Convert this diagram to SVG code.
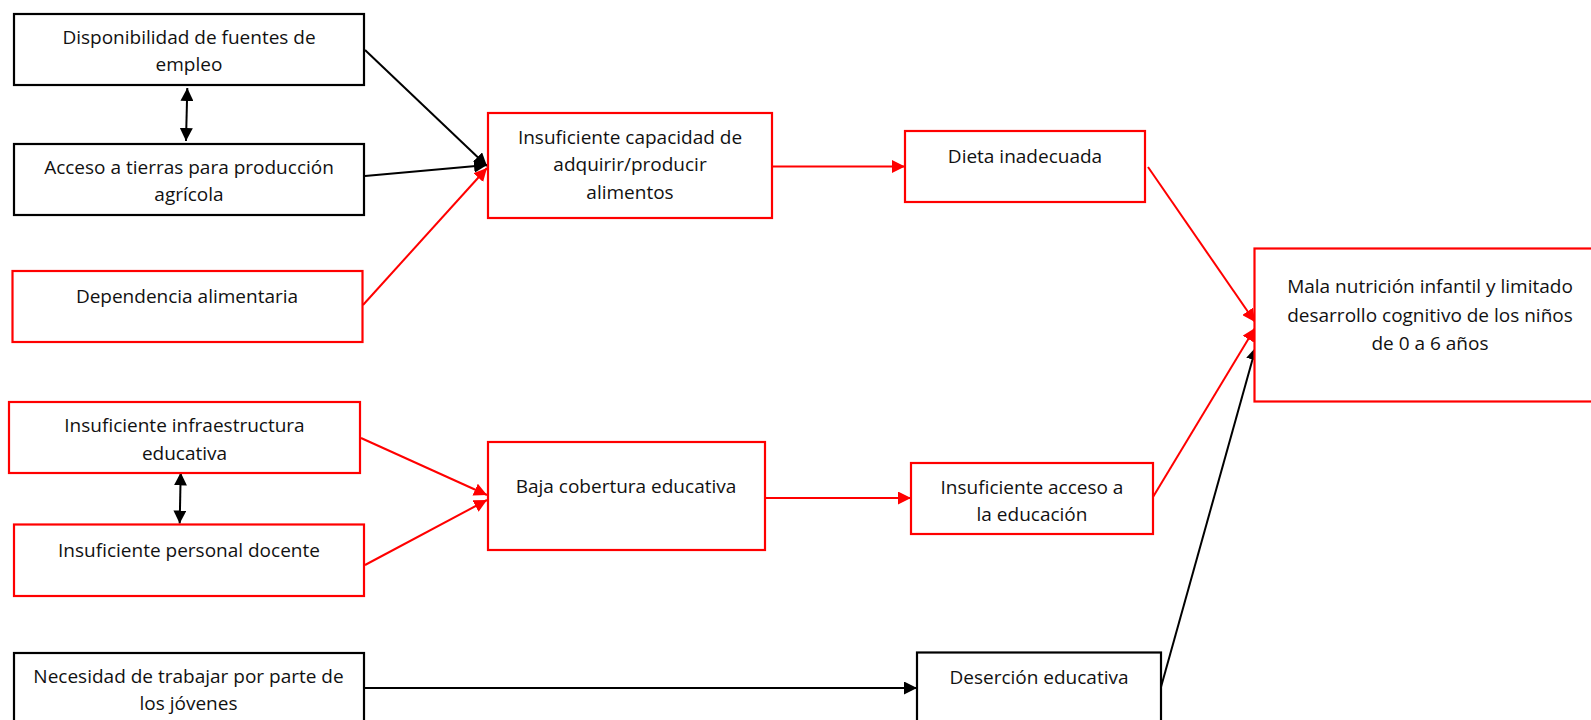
<svg xmlns="http://www.w3.org/2000/svg" width="1591" height="720" viewBox="0 0 1591 720">
<style>
  .bk { fill: #ffffff; stroke: #000000; stroke-width: 2.2; }
  .rd { fill: #ffffff; stroke: #ff0000; stroke-width: 2.2; }
  text { font-family: "Open Sans", "Liberation Sans", sans-serif; font-size: 19px; fill: #111111; text-anchor: middle; }
  .cb { stroke: #000000; stroke-width: 2; fill: none; }
  .cr { stroke: #ff0000; stroke-width: 2; fill: none; }
</style>
<defs>
  <marker id="ab" markerUnits="userSpaceOnUse" markerWidth="14" markerHeight="13" refX="13" refY="6.5" orient="auto-start-reverse" viewBox="0 0 14 13">
    <path d="M0,0 L13,6.5 L0,13 z" fill="#000000"/>
  </marker>
  <marker id="ar" markerUnits="userSpaceOnUse" markerWidth="14" markerHeight="13" refX="13" refY="6.5" orient="auto" viewBox="0 0 14 13">
    <path d="M0,0 L13,6.5 L0,13 z" fill="#ff0000"/>
  </marker>
</defs>
<rect width="1591" height="720" fill="#ffffff"/>

<g id="connectors">
  <line class="cb" x1="365" y1="50" x2="487" y2="166" marker-end="url(#ab)"/>
  <line class="cb" x1="365" y1="176" x2="487" y2="165" marker-end="url(#ab)"/>
  <line class="cr" x1="363" y1="305" x2="487" y2="168" marker-end="url(#ar)"/>
  <line class="cr" x1="773" y1="166.5" x2="905" y2="166.5" marker-end="url(#ar)"/>
  <line class="cr" x1="1148" y1="167" x2="1255" y2="322" marker-end="url(#ar)"/>
  <line class="cr" x1="1153" y1="497" x2="1255" y2="328" marker-end="url(#ar)"/>
  <line class="cb" x1="1161" y1="687" x2="1256" y2="347" marker-end="url(#ab)"/>
  <line class="cr" x1="361" y1="438" x2="487" y2="495" marker-end="url(#ar)"/>
  <line class="cr" x1="365" y1="565" x2="487" y2="500" marker-end="url(#ar)"/>
  <line class="cr" x1="765" y1="498" x2="911" y2="498" marker-end="url(#ar)"/>
  <line class="cb" x1="364" y1="688" x2="917" y2="688" marker-end="url(#ab)"/>
  <line class="cb" x1="187.3" y1="88" x2="186" y2="141" marker-start="url(#ab)" marker-end="url(#ab)"/>
  <line class="cb" x1="180.7" y1="472.5" x2="179.7" y2="523.5" marker-start="url(#ab)" marker-end="url(#ab)"/>
</g>

<g id="n1">
  <rect class="bk" x="14" y="14" width="350" height="71"/>
  <text x="189" y="43.5">Disponibilidad de fuentes de</text>
  <text x="189" y="71">empleo</text>
</g>
<g id="n2">
  <rect class="bk" x="14" y="144" width="350" height="71"/>
  <text x="189" y="173.5">Acceso a tierras para producción</text>
  <text x="189" y="201">agrícola</text>
</g>
<g id="n3">
  <rect class="rd" x="12.5" y="271" width="350" height="71"/>
  <text x="187" y="302.5">Dependencia alimentaria</text>
</g>
<g id="n4">
  <rect class="rd" x="488" y="113" width="284" height="105"/>
  <text x="630" y="143.5">Insuficiente capacidad de</text>
  <text x="630" y="171">adquirir/producir</text>
  <text x="630" y="199">alimentos</text>
</g>
<g id="n5">
  <rect class="rd" x="905" y="131" width="240" height="71"/>
  <text x="1025" y="163">Dieta inadecuada</text>
</g>
<g id="n6">
  <rect class="rd" x="1254.5" y="248.5" width="360" height="153"/>
  <text x="1430" y="293">Mala nutrición infantil y limitado</text>
  <text x="1430" y="321.5">desarrollo cognitivo de los niños</text>
  <text x="1430" y="350">de 0 a 6 años</text>
</g>
<g id="n7">
  <rect class="rd" x="9" y="402" width="351" height="71"/>
  <text x="184.5" y="432">Insuficiente infraestructura</text>
  <text x="184.5" y="460">educativa</text>
</g>
<g id="n8">
  <rect class="rd" x="14" y="524.5" width="350" height="71.5"/>
  <text x="189" y="557">Insuficiente personal docente</text>
</g>
<g id="n9">
  <rect class="bk" x="14" y="653" width="350" height="100"/>
  <text x="188.5" y="683">Necesidad de trabajar por parte de</text>
  <text x="188.5" y="709.5">los jóvenes</text>
</g>
<g id="n10">
  <rect class="rd" x="488" y="442" width="277" height="108"/>
  <text x="626" y="493">Baja cobertura educativa</text>
</g>
<g id="n11">
  <rect class="rd" x="911" y="463" width="242" height="71"/>
  <text x="1032" y="493.5">Insuficiente acceso a</text>
  <text x="1032" y="521">la educación</text>
</g>
<g id="n12">
  <rect class="bk" x="917" y="652.5" width="244" height="100"/>
  <text x="1039" y="684">Deserción educativa</text>
</g>
</svg>
